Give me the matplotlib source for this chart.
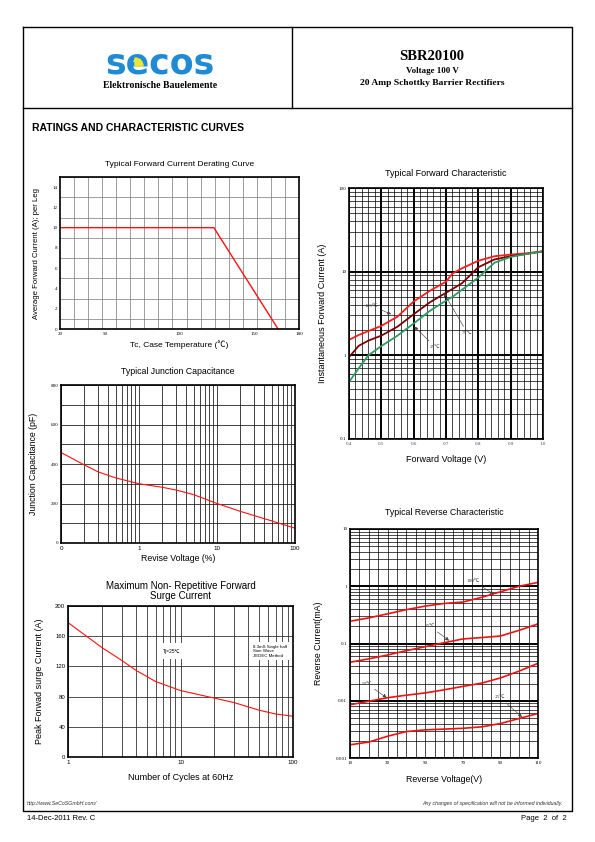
import numpy as np
import matplotlib.pyplot as plt
from matplotlib.patches import Wedge
from matplotlib.ticker import FixedLocator, NullFormatter

plt.rcParams['font.family'] = ['Liberation Sans', 'DejaVu Sans']

# ---- data ----
derate_temp = [20, 123, 166]
derate_amp = [10, 10, 0]

cap_volt = [0.1, 0.2, 0.3, 0.5, 1, 2, 3, 5, 10, 20, 50, 100]
cap_pf = [458, 395, 360, 330, 300, 282, 268, 245, 200, 160, 112, 75]

surge_cycles = [1, 2, 3, 4, 6, 10, 20, 30, 50, 70, 100]
surge_amp = [178, 145, 128, 115, 100, 88, 78, 72, 62, 57, 54]

fwd_volt = [0.40, 0.43, 0.46, 0.50, 0.55, 0.60, 0.65, 0.70, 0.72, 0.75, 0.80, 0.85, 0.90, 0.95, 1.00]
fwd_125 = [1.53, 1.75, 1.95, 2.25, 2.9, 4.4, 5.9, 7.6, 9.5, 11, 13.5, 15.3, 16, 16.6, 17.5]
fwd_75 = [0.95, 1.3, 1.5, 1.72, 2.2, 3.1, 4.3, 5.6, 6.2, 7.3, 11.3, 14, 15.3, 16.3, 17.5]
fwd_25 = [0.48, 0.7, 1.0, 1.29, 1.72, 2.4, 3.4, 4.5, 5.0, 6.1, 8.5, 12.8, 15, 16.3, 17.5]

rev_volt = [10, 20, 30, 40, 50, 60, 70, 80, 90, 100, 110]
rev_100 = [0.245, 0.28, 0.33, 0.39, 0.45, 0.50, 0.53, 0.64, 0.80, 1.0, 1.17]
rev_75 = [0.047, 0.054, 0.063, 0.075, 0.088, 0.103, 0.12, 0.127, 0.135, 0.17, 0.22]
rev_50 = [0.0085, 0.0098, 0.0113, 0.0125, 0.0137, 0.0155, 0.0178, 0.0203, 0.025, 0.033, 0.045]
rev_25 = [0.0017, 0.0019, 0.0024, 0.0029, 0.0031, 0.0032, 0.0033, 0.0035, 0.004, 0.0049, 0.006]

W, H = 595, 842
fig = plt.figure(figsize=(W / 100, H / 100), dpi=100)

# page layer in pixel coordinates
page = fig.add_axes([0, 0, 1, 1], zorder=0)
page.set_xlim(0, W)
page.set_ylim(H, 0)
page.axis('off')

def box(l, t, r, b):
    return [l / W, 1 - b / H, (r - l) / W, (b - t) / H]

serif = ['Liberation Serif', 'DejaVu Serif']
k = dict(color='black', lw=1.0)
page.plot([23, 572, 572, 23, 23], [27, 27, 811, 811, 27], **k)
page.plot([292, 292], [27, 108], **k)
page.plot([23, 572], [108, 108], **k)

# logo
page.text(160, 74, 'secos', ha='center', va='baseline', fontsize=25, fontweight='heavy',
          color='#1f8bd4', family=['DejaVu Sans'])
page.add_patch(Wedge((135, 66), 8, -90, 0, color='#e6e633', zorder=3))
page.text(160, 86, 'Elektronische Bauelemente', ha='center', va='center', fontsize=7,
          fontweight='bold', family=serif)
page.text(432, 57, 'SBR20100', ha='center', va='center', fontsize=10.5, fontweight='bold', family=serif)
page.text(432, 71, 'Voltage 100 V', ha='center', va='center', fontsize=6.5, fontweight='bold', family=serif)
page.text(432, 83, '20 Amp Schottky Barrier Rectifiers', ha='center', va='center', fontsize=6.8,
          fontweight='bold', family=serif)
page.text(32, 128, 'RATINGS AND CHARACTERISTIC CURVES', ha='left', va='center', fontsize=7.5, fontweight='bold')

page.text(27, 803, 'http://www.SeCoSGmbH.com/', ha='left', va='center', fontsize=3.8, style='italic', color='#333')
page.text(563, 803, 'Any changes of specification will not be informed individually.', ha='right',
          va='center', fontsize=3.8, style='italic', color='#333')
page.text(27, 818, '14-Dec-2011 Rev. C', ha='left', va='center', fontsize=5.5)
page.text(567, 818, 'Page  2  of  2', ha='right', va='center', fontsize=5.5)

tick_font = dict(fontsize=3.6, family=serif)

def style(ax, lw=1.2):
    for s in ax.spines.values():
        s.set_linewidth(lw)
    ax.tick_params(which='both', length=0, pad=2)

# ---- 1: derating curve ----
ax1 = fig.add_axes(box(60, 177, 299, 329))
ax1.plot(derate_temp, derate_amp, color='#ff1010', lw=1.0)
ax1.set_xlim(20, 180)
ax1.set_ylim(0, 15)
ax1.set_xticks([20, 50, 100, 150, 180])
ax1.set_xticklabels(['20', '50', '100', '150', '180'], **tick_font)
ax1.set_yticks(range(0, 15, 2))
ax1.set_yticklabels([str(v) for v in range(0, 15, 2)], **tick_font)
ax1.xaxis.set_minor_locator(FixedLocator(np.linspace(20, 180, 18)))
ax1.yaxis.set_minor_locator(FixedLocator(range(0, 16)))
ax1.grid(which='minor', color='#777', lw=0.5)
style(ax1)
ax1.set_title('Typical Forward Current Derating Curve', fontsize=6, pad=8)
ax1.set_xlabel('Tc, Case Temperature (℃)', fontsize=6, labelpad=3,
               family=['Liberation Sans', 'Noto Sans CJK SC'])
ax1.set_ylabel('Average Forward Current (A); per Leg', fontsize=5.6, labelpad=9)

# ---- 2: junction capacitance ----
ax2 = fig.add_axes(box(61, 385, 295, 543))
ax2.plot(cap_volt, cap_pf, color='#ff1010', lw=0.8)
ax2.set_xscale('log')
ax2.set_xlim(0.1, 100)
ax2.set_ylim(0, 800)
ax2.xaxis.set_major_locator(FixedLocator([0.1, 1, 10, 100]))
ax2.xaxis.set_minor_locator(FixedLocator([m * d for d in (0.1, 1, 10) for m in range(2, 10)]))
ax2.xaxis.set_minor_formatter(NullFormatter())
ax2.set_xticklabels(['0', '1', '10', '100'], fontsize=4.5)
ax2.set_yticks(range(0, 801, 200))
ax2.set_yticklabels([str(v) for v in range(0, 801, 200)], **tick_font)
ax2.yaxis.set_minor_locator(FixedLocator(range(100, 800, 200)))
ax2.grid(which='both', color='#222', lw=0.6)
style(ax2)
ax2.set_title('Typical Junction Capacitance', fontsize=6.3, pad=8)
ax2.set_xlabel('Revise Voltage (%)', fontsize=6.3, labelpad=2)
ax2.set_ylabel('Junction Capacitance (pF)', fontsize=6.3, labelpad=9)

# ---- 3: surge current ----
ax3 = fig.add_axes(box(68, 606, 293, 757))
ax3.plot(surge_cycles, surge_amp, color='#ff1010', lw=0.8)
ax3.set_xscale('log')
ax3.set_xlim(1, 100)
ax3.set_ylim(0, 200)
ax3.xaxis.set_major_locator(FixedLocator([1, 10, 100]))
ax3.xaxis.set_minor_locator(FixedLocator([m * d for d in (1, 10) for m in range(2, 10)]))
ax3.xaxis.set_minor_formatter(NullFormatter())
ax3.set_xticklabels(['1', '10', '100'], fontsize=4.5)
ax3.set_yticks(range(0, 201, 40))
ax3.set_yticklabels([str(v) for v in range(0, 201, 40)], fontsize=4.3)
ax3.grid(which='both', color='#333', lw=0.6)
style(ax3)
ax3.text(8.3, 140, 'Tj=25℃', fontsize=3.6, ha='center', va='center',
         family=['Liberation Sans', 'Noto Sans CJK SC'],
         bbox=dict(facecolor='white', edgecolor='none', pad=4))
ax3.text(44, 140, '8.3mS Single half\nSine Wave\nJEDEC Method', fontsize=3.2, ha='left', va='center',
         linespacing=1.1, bbox=dict(facecolor='white', edgecolor='none', pad=2))
ax3.set_title('Maximum Non- Repetitive Forward\nSurge Current', fontsize=7, pad=5, linespacing=1.0)
ax3.set_xlabel('Number of Cycles at 60Hz', fontsize=6.5, labelpad=6)
ax3.set_ylabel('Peak Forwad surge Current (A)', fontsize=6.5, labelpad=8)

# ---- 4: forward characteristic ----
ax4 = fig.add_axes(box(349, 188, 543, 439))
ax4.plot(fwd_volt, fwd_125, color='#ff1a1a', lw=1.3)
ax4.plot(fwd_volt, fwd_75, color='#7a0000', lw=1.3)
ax4.plot(fwd_volt, fwd_25, color='#2e9a62', lw=1.3)
ax4.set_yscale('log')
ax4.set_xlim(0.4, 1.0)
ax4.set_ylim(0.1, 100)
fv_ticks = [0.4, 0.5, 0.6, 0.7, 0.8, 0.9, 1.0]
ax4.set_xticks(fv_ticks)
ax4.set_xticklabels(['0.4', '0.5', '0.6', '0.7', '0.8', '0.9', '1.0'], color='#3a4a6a', **tick_font)
ax4.xaxis.set_minor_locator(FixedLocator(np.arange(0.42, 1.0, 0.02)))
ax4.yaxis.set_major_locator(FixedLocator([0.1, 1, 10, 100]))
ax4.yaxis.set_minor_locator(FixedLocator([m * d for d in (0.1, 1, 10) for m in range(2, 10)]))
ax4.yaxis.set_minor_formatter(NullFormatter())
ax4.set_yticklabels(['0.1', '1', '10', '100'], **tick_font)
ax4.grid(which='minor', color='black', lw=0.5)
ax4.grid(which='major', color='black', lw=1.4)
style(ax4)
arrow = dict(arrowstyle='-|>', color='#444', lw=0.5, linestyle=(0, (2, 1)), mutation_scale=5,
             shrinkA=1, shrinkB=0)
cfont = dict(fontsize=3.8, family=['Liberation Serif', 'Noto Sans CJK SC'], color='#444')
ax4.annotate('125℃', xy=(0.530, 3.1), xytext=(0.468, 3.95), ha='center', va='center',
             arrowprops=arrow, **cfont)
ax4.annotate('75℃', xy=(0.693, 5.6), xytext=(0.765, 1.88), ha='center', va='center',
             arrowprops=arrow, **cfont)
ax4.annotate('25℃', xy=(0.602, 2.2), xytext=(0.666, 1.27), ha='center', va='center',
             arrowprops=arrow, **cfont)
ax4.set_title('Typical Forward Characteristic', fontsize=6.5, pad=9)
ax4.set_xlabel('Forward Voltage (V)', fontsize=6.5, labelpad=7)
ax4.set_ylabel('Instantaneous Forward Current (A)', fontsize=6.5, labelpad=8)

# ---- 5: reverse characteristic ----
ax5 = fig.add_axes(box(350, 529, 538, 758))
for curve in (rev_100, rev_75, rev_50, rev_25):
    ax5.plot(rev_volt, curve, color='#ee1111', lw=1.2)
ax5.set_yscale('log')
ax5.set_xlim(10, 110)
ax5.set_ylim(0.001, 10)
ax5.set_xticks([10, 30, 50, 70, 90, 110])
ax5.set_xticklabels(['10', '30', '50', '70', '90', '110'], **tick_font)
ax5.xaxis.set_minor_locator(FixedLocator(range(15, 110, 5)))
ax5.yaxis.set_major_locator(FixedLocator([0.001, 0.01, 0.1, 1, 10]))
ax5.yaxis.set_minor_locator(FixedLocator([m * d for d in (0.001, 0.01, 0.1, 1) for m in range(2, 10)]))
ax5.yaxis.set_minor_formatter(NullFormatter())
ax5.set_yticklabels(['0.001', '0.01', '0.1', '1', '10'], **tick_font)
ax5.grid(which='minor', color='black', lw=0.5)
ax5.grid(which='major', axis='x', color='black', lw=0.5)
ax5.grid(which='major', axis='y', color='black', lw=1.4)
style(ax5)
ax5.annotate('100℃', xy=(86.5, 0.72), xytext=(75.5, 1.25), ha='center', va='center',
             arrowprops=arrow, **cfont)
ax5.annotate('75℃', xy=(62.7, 0.112), xytext=(52.5, 0.2), ha='center', va='center',
             arrowprops=arrow, **cfont)
ax5.annotate('50℃', xy=(29.5, 0.0113), xytext=(18.8, 0.02), ha='center', va='center',
             arrowprops=arrow, **cfont)
ax5.annotate('25℃', xy=(101.5, 0.0052), xytext=(89.6, 0.0115), ha='center', va='center',
             arrowprops=arrow, **cfont)
ax5.set_title('Typical Reverse Characteristic', fontsize=6.3, pad=10)
ax5.set_xlabel('Reverse Voltage(V)', fontsize=6.3, labelpad=7)
ax5.set_ylabel('Reverse Current(mA)', fontsize=6.3, labelpad=9)

fig.savefig('out.png', dpi=100)
